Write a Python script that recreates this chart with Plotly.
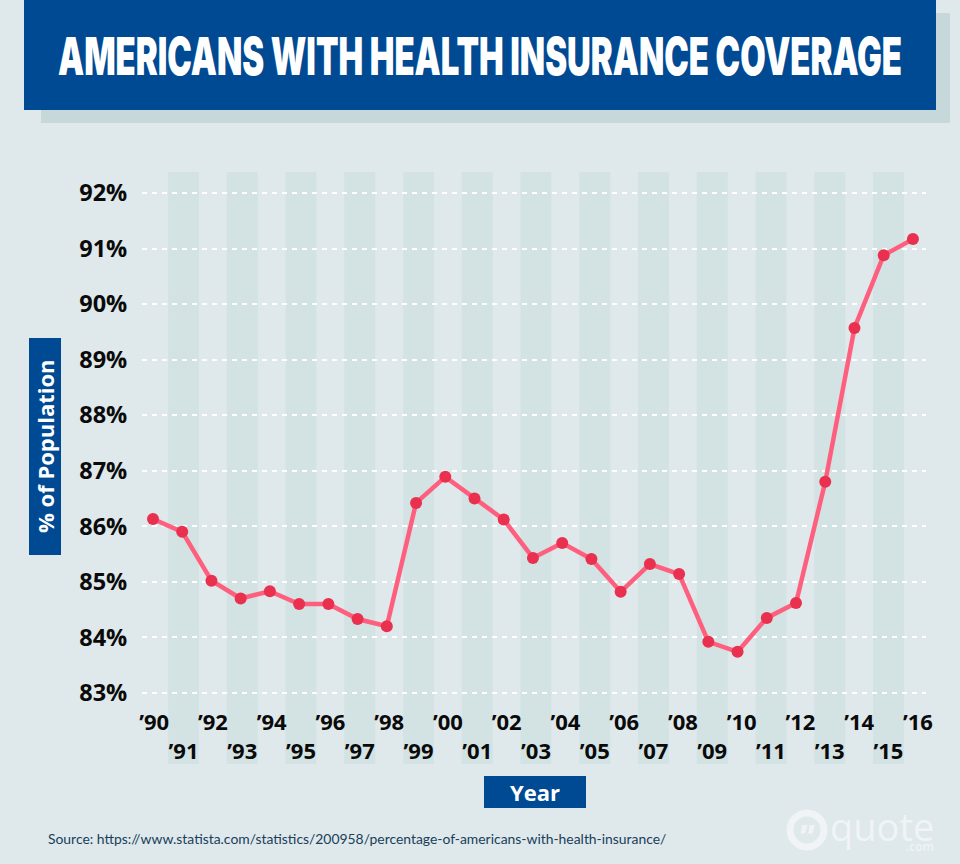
import plotly.graph_objects as go

years = list(range(1990, 2017))
coverage = [86.13, 85.9, 85.02, 84.7, 84.83, 84.6, 84.6, 84.33, 84.2, 86.42, 86.89, 86.5, 86.12, 85.43,
            85.7, 85.41, 84.82, 85.32, 85.14, 83.92, 83.74, 84.35, 84.62, 86.8, 89.57, 90.88, 91.17]
year_labels = ["’%02d" % (y % 100) for y in years]
y_ticks = list(range(83, 93))
y_labels = ["%d%%" % v for v in y_ticks]
band_years = list(range(1991, 2016, 2))
title = "AMERICANS WITH HEALTH INSURANCE COVERAGE"

BG, BLUE, SHADOW, BAND = "#dfe8eb", "#004a93", "#c7d8db", "#d3e2e3"
MARK = "#f0f4f6"
W, H = 960, 864
def px(x): return x / W
def py(y): return 1 - y / H

shapes = [
    dict(type="rect", xref="paper", yref="paper", x0=px(41), x1=px(950), y0=py(123), y1=py(13), fillcolor=SHADOW, line_width=0, layer="below"),
    dict(type="rect", xref="paper", yref="paper", x0=px(24), x1=px(936), y0=py(110), y1=py(0), fillcolor=BLUE, line_width=0, layer="below"),
    dict(type="rect", xref="paper", yref="paper", x0=px(29), x1=px(61), y0=py(555), y1=py(338), fillcolor=BLUE, line_width=0),
    dict(type="rect", xref="paper", yref="paper", x0=px(484), x1=px(586), y0=py(808), y1=py(776), fillcolor=BLUE, line_width=0),
    dict(type="circle", xref="paper", yref="paper", x0=px(790), x1=px(824), y0=py(847), y1=py(813), fillcolor="rgba(0,0,0,0)", line=dict(color=MARK, width=7)),
]
for b in band_years:
    shapes.append(dict(type="rect", xref="x", yref="paper", x0=b - 0.525, x1=b + 0.525, y0=py(764), y1=py(172),
                       fillcolor=BAND, line_width=0, layer="below"))

def note(text, x, y, font, **kw):
    return dict(text=text, xref="paper", yref="paper", x=px(x), y=py(y), showarrow=False,
                xanchor=kw.pop("xanchor", "center"), yanchor="middle", font=font, **kw)

annotations = [
    note(title, 480, 56.5, dict(family="Inter", size=52, color="white", weight=900), width=860),
    note("% of Population", 45, 446, dict(family="Open Sans", size=22, color="white", weight=700), textangle=-90),
    note("Year", 535, 792, dict(family="Open Sans", size=22, color="white", weight=700)),
    note("Source: https://www.statista.com/statistics/200958/percentage-of-americans-with-health-insurance/",
         46, 838, dict(family="Lato", size=13.9, color="#17405a"), xanchor="left"),
    note("quote", 936, 826, dict(family="Open Sans", size=38, color=MARK, weight=500), xanchor="right"),
    note(".com", 936, 846, dict(family="Open Sans", size=12, color=MARK, weight=600), xanchor="right"),
    note("”", 807, 835, dict(family="Open Sans", size=30, color=MARK, weight=800)),
]

fig = go.Figure()
fig.add_trace(go.Scatter(
    x=years, y=coverage, mode="lines+markers", xaxis="x2", yaxis="y", showlegend=False,
    line=dict(color="#ff5f7e", width=4.5), marker=dict(color="#e9304f", size=12)))

tick_text = [t if i % 2 == 0 else "<br>" + t for i, t in enumerate(year_labels)]
dx = [px(142), px(926)]
fig.update_layout(
    width=W, height=H, margin=dict(l=0, r=0, t=0, b=0, pad=0, autoexpand=False),
    paper_bgcolor=BG, plot_bgcolor="rgba(0,0,0,0)", showlegend=False, shapes=shapes, annotations=annotations,
    font=dict(family="Open Sans"),
    xaxis=dict(domain=dx, range=[1989.587, 2016.277], anchor="free", position=py(707), showgrid=False, zeroline=False, showline=False,
               tickmode="array", tickvals=years, ticktext=tick_text, ticks="", ticklen=0,
               tickangle=0, tickfont=dict(family="Open Sans", size=22, color="#0a0a0a", weight=700)),
    xaxis2=dict(domain=dx, range=[1989.624, 2016.447], overlaying="x", visible=False),
    yaxis=dict(domain=[py(764), py(172)], range=[81.72, 92.378], tickmode="array", tickvals=y_ticks, ticktext=y_labels, showline=False, zeroline=False,
               showgrid=True, gridcolor="white", griddash="5px,5px", gridwidth=2, ticks="outside", ticklen=9, tickcolor="rgba(0,0,0,0)",
               tickfont=dict(family="Open Sans", size=23.5, color="#0a0a0a", weight=700)),
)
post = """
document.body.style.margin='0';
function fitTitle(){
  document.querySelectorAll('.annotation-text').forEach(function(t){
    if(t.textContent.indexOf('AMERICANS')===0){t.setAttribute('textLength','844');t.setAttribute('lengthAdjust','spacingAndGlyphs');}
  });
}
fitTitle();
var gd=document.getElementById('{plot_id}');
if(gd&&gd.on){gd.on('plotly_afterplot',fitTitle);}
setTimeout(fitTitle,50);
"""
fig.write_html("out.html", post_script=post, config=dict(displayModeBar=False))
